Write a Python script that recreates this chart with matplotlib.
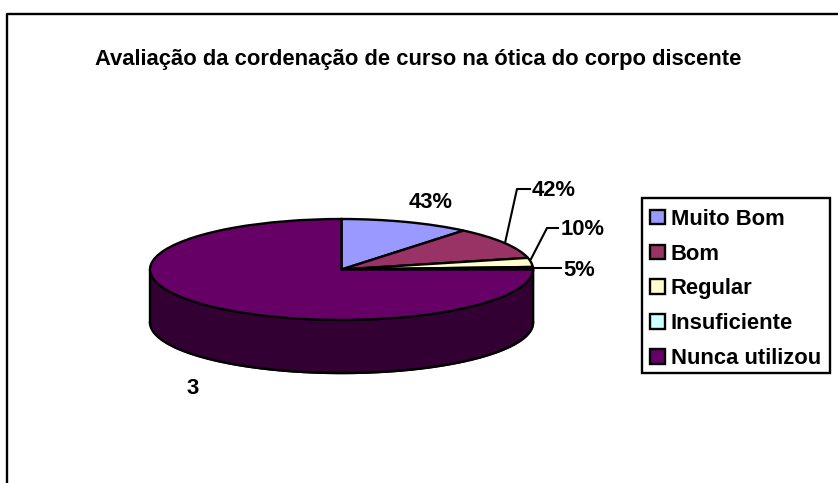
#!/usr/bin/env python3
import numpy as np
import matplotlib
matplotlib.use('Agg')
import matplotlib.pyplot as plt
from matplotlib.patches import Rectangle

# Slice shares (the printed labels don't match them)
categories = ['Muito Bom', 'Bom', 'Regular', 'Insuficiente', 'Nunca utilizou']
shares = [11.0, 10.3, 2.9, 0.8, 75.0]
colors = ['#9999ff', '#993366', '#ffffcc', '#ccffff', '#660066']
slice_labels = ['43%', '42%', '10%', '5%', '3']
title = 'Avaliação da cordenação de curso na ótica do corpo discente'

W, H = 838, 483
plt.rcParams['font.family'] = ['Liberation Sans', 'DejaVu Sans']
plt.rcParams['font.weight'] = 'bold'


def fx(px):
    return px / W


def fy(py):
    return 1 - py / H


fig = plt.figure(figsize=(W / 100, H / 100), dpi=100)
fig.patch.set_facecolor('white')

# outer chart frame, only top and left are inside the picture
fig.add_artist(plt.Line2D([fx(7), fx(7), fx(838)], [fy(483), fy(14), fy(14)], color='black', lw=1.7,
                          transform=fig.transFigure))

# axes where the ellipse fills -1..1 on both directions
cx0, cx1, cy0, cy1 = 150, 533, 219, 320
ax = fig.add_axes([fx(cx0), fy(cy1), fx(cx1) - fx(cx0), fy(cy0) - fy(cy1)])
wedges, _ = ax.pie(shares, colors=colors, startangle=90, counterclock=False, radius=1,
                   wedgeprops={'edgecolor': 'black', 'linewidth': 1.7, 'clip_on': False, 'zorder': 3})
ax.set_aspect('auto')
ax.set_xlim(-1, 1)
ax.set_ylim(-1, 1)

# side wall, only the lower half of the ellipse shows
depth = 1.05
t = np.linspace(np.pi, 2 * np.pi, 200)
ax.fill_between(np.cos(t), np.sin(t), np.sin(t) - depth, color='#330033', zorder=1, clip_on=False)
ax.plot(np.cos(t), np.sin(t) - depth, color='black', lw=1.7, zorder=2, clip_on=False)
ax.plot([-1, -1], [0, -depth], color='black', lw=1.7, zorder=2, clip_on=False)
ax.plot([1, 1], [0, -depth], color='black', lw=1.7, zorder=2, clip_on=False)

# title and labels
fig.text(fx(418.5), fy(59), title, ha='center', va='center', fontsize=15.8)
label_pos = [(431, 203), (554, 191), (583, 229), (579, 271), (193, 389)]
for s, (x, y) in zip(slice_labels, label_pos):
    fig.text(fx(x), fy(y), s, ha='center', va='center', fontsize=15.8)

# leader lines
leaders = [
    [(505, 243), (517, 189), (530, 189)],
    [(531, 259), (547, 228), (558, 228)],
    [(533, 268), (561, 268)],
]
for pts in leaders:
    xs = [fx(p[0]) for p in pts]
    ys = [fy(p[1]) for p in pts]
    fig.add_artist(plt.Line2D(xs, ys, color='black', lw=1.5, transform=fig.transFigure))

# legend: box drawn apart so the entries can sit a bit lower in it
fig.add_artist(Rectangle((fx(642), fy(373)), fx(830) - fx(642), fy(198) - fy(373),
                         transform=fig.transFigure, fill=False, ec='black', lw=1.7))
fig.legend(wedges, categories, loc='upper left',
           bbox_to_anchor=(fx(642), fy(200.5)), fontsize=15.8, frameon=False,
           borderpad=0.38, labelspacing=0.63, handlelength=0.65, handleheight=0.65,
           handletextpad=0.28, borderaxespad=0)

fig.savefig('out.png', dpi=100)
